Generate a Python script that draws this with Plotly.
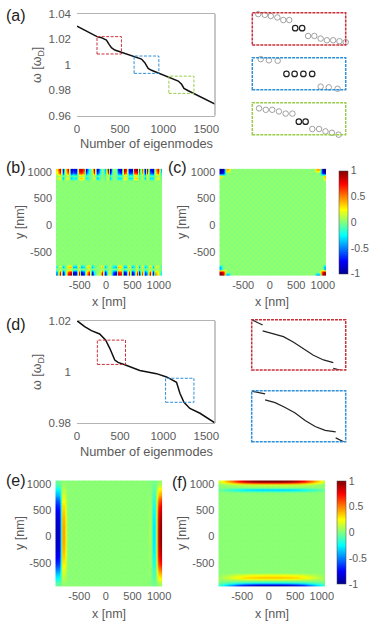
# Eigenmode spectra and field maps, panels (a) to (f)
import numpy as np
import plotly.graph_objects as go

W, H = 374, 628

# --- spectra ---
a_modes = [0, 232, 283, 341, 372, 399, 438, 515, 662, 748, 786, 825, 864, 949, 1065, 1174, 1213, 1240, 1290, 1356, 1600]
a_freq = [1.0303, 1.0220, 1.0212, 1.0193, 1.0160, 1.0133, 1.0115, 1.0097, 1.0063, 1.0044, 1.0016, 0.9971, 0.9956,
          0.9932, 0.9901, 0.9872, 0.9846, 0.9814, 0.9796, 0.9775, 0.9692]
d_modes = [0, 89, 167, 263, 333, 380, 438, 476, 562, 728, 922, 1038, 1154, 1193, 1240, 1309, 1426, 1522, 1600]
d_freq = [1.02, 1.0177, 1.0161, 1.0148, 1.0124, 1.0092, 1.0046, 1.0037, 1.0027, 1.0005, 0.9993, 0.9980, 0.9959,
          0.9916, 0.9881, 0.9857, 0.9838, 0.9818, 0.98]

# zoom windows: x0, x1, y0, y1
a_red_box = [232, 515, 1.0084, 1.022]
a_blue_box = [662, 949, 0.9932, 1.0068]
a_green_box = [1065, 1356, 0.9775, 0.991]
d_red_box = [236, 562, 1.0029, 1.0124]
d_blue_box = [1027, 1356, 0.9881, 0.9975]

# inset modes for (a), grey = outside the gap, black = in the gap
red_x = [230, 250, 270, 288, 308, 326, 344, 362, 383, 401, 420, 439, 458, 477, 496, 515]
red_y = [1.0220, 1.0214, 1.0211, 1.0206, 1.0200, 1.0189, 1.0189, 1.0155, 1.0155, 1.0122, 1.0122, 1.0111, 1.0104,
         1.0104, 1.0100, 1.0096]
red_gap = [7, 8]
blue_x = [662, 688, 713, 740, 767, 792, 819, 846, 872, 897, 924, 951]
blue_y = [1.0069, 1.0062, 1.0057, 1.0055, 0.9999, 0.9999, 0.9999, 0.9999, 0.9945, 0.9942, 0.9936, 0.9931]
blue_gap = [4, 5, 6, 7]
green_x = [1063, 1086, 1107, 1127, 1148, 1169, 1190, 1210, 1231, 1252, 1273, 1293, 1313, 1334, 1356]
green_y = [0.9889, 0.9886, 0.9880, 0.9880, 0.9873, 0.9864, 0.9864, 0.9830, 0.9830, 0.9799, 0.9799, 0.9789, 0.9783,
           0.9775, 0.9774]
green_gap = [7, 8]

# inset curves for (d), None marks the gaps
d_red_x = [236, 274, None, 274, 311, 346, 380, 415, 450, 485, 519, None, 519, 562]
d_red_y = [1.0124, 1.0114, None, 1.0103, 1.0098, 1.0092, 1.0082, 1.0070, 1.0057, 1.0048, 1.0043, None, 1.0032, 1.0026]
d_blue_x = [1027, 1074, None, 1074, 1109, 1144, 1179, 1214, 1249, 1284, 1321, None, 1321, 1356]
d_blue_y = [0.9974, 0.9969, None, 0.9958, 0.9953, 0.9944, 0.9934, 0.9920, 0.9909, 0.9902, 0.9899, None, 0.9888, 0.9879]

# --- field maps, 40 x 40 sites, row 0 is the top of the panel ---
site_nm = np.linspace(-925, 1035, 40)
bg_a = [-0.01, 0.05] * 20
bg_b = [0.05, 0.0] * 20

b_top = [0.3, 0.9, -0.9, 0.2, 0.8, -1, -0.7, -0.9, 0.8, 0.9, 0.6, -0.8, -0.2, 0.1, 0.9, -1, -0.3, 0.1, -0.4, 0.9,
         -1, 0.1, 0.0, -0.7, -0.9, 0.9, 0.7, -0.9, -0.8, 0.8, 1, -0.6, 0.6, -1, 0.9, -0.7, -0.9, 0.3, 0.8, -0.4]
b_top2 = [0.1, 0.3, -0.4, 0.1, 0.3, -0.4, -0.2, -0.3, 0.3, 0.4, 0.2, -0.3, -0.1, 0.05, 0.3, -0.4, -0.1, 0.05, -0.1,
          0.3, -0.4, 0.05, 0.0, -0.3, -0.3, 0.3, 0.3, -0.3, -0.3, 0.3, 0.4, -0.2, 0.2, -0.4, 0.3, -0.3, -0.3, 0.1,
          0.3, -0.1]
b_bottom = [-0.5, 0.9, -1, -0.2, 0.8, 1, -0.9, -1, 0.9, -1, -0.7, 0.3, 0.9, -1, -0.3, 0.1, 0.1, 0.9, -1, 0.1, 0.2,
            -0.7, -1, 0.9, 0.8, -1, -0.8, 0.9, -1, -0.6, 0.8, -1, 0.7, -0.8, -0.4, 0.9, -1, 0.5, 0.3, -0.3]
b_bottom2 = [-0.2, 0.3, -0.4, -0.1, 0.35, 0.4, -0.4, -0.4, 0.4, -0.4, -0.3, 0.1, 0.4, -0.4, -0.1, 0.05, 0.05, 0.4,
             -0.4, 0.05, 0.1, -0.3, -0.4, 0.4, 0.35, -0.4, -0.35, 0.4, -0.4, -0.25, 0.35, -0.4, 0.3, -0.35, -0.2,
             0.4, -0.4, 0.2, 0.15, -0.1]

e_edge = [0.05, 0.1, 0.2, 0.3, 0.38, 0.45, 0.55, 0.65, 0.72, 0.78, 0.83, 0.87, 0.9, 0.93, 0.95, 0.97, 0.98, 0.99, 1,
          1, 1, 1, 0.99, 0.98, 0.97, 0.95, 0.93, 0.9, 0.87, 0.83, 0.78, 0.72, 0.65, 0.55, 0.45, 0.38, 0.3, 0.2, 0.1,
          0.05]
e_ridge = [0.03, 0.05, 0.08, 0.12, 0.15, 0.18, 0.2, 0.24, 0.27, 0.3, 0.32, 0.34, 0.36, 0.38, 0.39, 0.4, 0.41, 0.42,
           0.42, 0.42, 0.42, 0.42, 0.42, 0.41, 0.4, 0.39, 0.38, 0.36, 0.34, 0.32, 0.3, 0.27, 0.24, 0.2, 0.18, 0.15,
           0.12, 0.08, 0.05, 0.03]
f_edge = [0.15, 0.25, 0.33, 0.4, 0.48, 0.55, 0.62, 0.7, 0.76, 0.82, 0.87, 0.9, 0.93, 0.95, 0.97, 0.98, 1, 1, 1, 1, 1,
          1, 1, 1, 0.98, 0.97, 0.95, 0.93, 0.9, 0.87, 0.82, 0.76, 0.7, 0.62, 0.55, 0.48, 0.4, 0.33, 0.25, 0.15]


def background():
    return np.array([bg_a if i % 2 == 0 else bg_b for i in range(40)])


z_b = background()
z_b[0] = b_top
z_b[1] = 0.75 * np.array(b_top)
z_b[2] = 0.1 * np.array(b_top)
z_b[3] = b_top2
z_b[36] = b_bottom2
z_b[38] = 0.75 * np.array(b_bottom)
z_b[39] = b_bottom

z_c = background()
z_c[0, [0, 1, 2, 3, 36, 37, 38, 39]] = [-1, -0.9, 0.4, 0.4, 0.4, 0.4, -0.9, -1]
z_c[1, [0, 1, 38, 39]] = [-0.9, -0.7, -0.7, -0.9]
z_c[2, [0, 39]] = [0.3, 0.35]
z_c[3, [0, 39]] = [0.1, 0.35]
z_c[36, [0, 39]] = [-0.4, -0.4]
z_c[37, [0, 39]] = [-0.4, -0.4]
z_c[38, [0, 1, 38, 39]] = [0.9, 0.7, 0.7, 0.9]
z_c[39, [0, 1, 2, 3, 36, 37, 38, 39]] = [1, 0.9, -0.45, -0.45, -0.45, -0.45, 0.9, 1]

z_e = background()
z_e[:, 0] = -0.9 * np.array(e_edge)
z_e[:, 1] = -0.85 * np.array(e_edge)
z_e[:, 2] = np.array(e_ridge)
z_e[:, 3] = np.array(e_ridge)
z_e[:, 35] = 0.25 * np.array(e_ridge)
z_e[:, 36] = -0.75 * np.array(e_ridge)
z_e[:, 37] = -0.5 * np.array(e_ridge)
z_e[:, 38] = 0.85 * np.array(e_edge)
z_e[:, 39] = np.array(e_edge)

z_f = background()
z_f[0] = f_edge
z_f[1] = 0.15 * np.array(f_edge)
z_f[3] = -0.35 * np.array(f_edge)
z_f[35] = 0.2 * np.array(f_edge)
z_f[36] = 0.38 * np.array(f_edge)
z_f[38] = -0.2 * np.array(f_edge)
z_f[39] = -1.0 * np.array(f_edge)

GREY = "#5a5a5a"
LINE = "#b4b4b4"
RED = "#c8303a"
BLUE = "#2f8fd8"
GREEN = "#9acd4a"
JET = [[0, "#00008f"], [0.125, "#0000ff"], [0.375, "#00ffff"], [0.625, "#ffff00"], [0.875, "#ff0000"], [1, "#800000"]]


# pixel box -> axis domains
def dom(x0, x1, y0, y1):
    return dict(domain=[x0 / W, x1 / W]), dict(domain=[1 - y1 / H, 1 - y0 / H])


def ref(n):
    return "" if n == 1 else str(n)


fig = go.Figure()
layout = {}
shapes = []
annots = []


def note(text, x, y, size=11, color=GREY, angle=0, anchor="center"):
    annots.append(dict(text=text, x=x / W, y=1 - y / H, xref="paper", yref="paper", showarrow=False,
                       font=dict(size=size, color=color), textangle=angle, xanchor=anchor, yanchor="middle"))


def spectrum_axes(n, box, yrange, yticks, ylabels):
    xd, yd = dom(*box)
    layout[f"xaxis{ref(n)}"] = dict(xd, anchor=f"y{ref(n)}", range=[0, 1600], tickvals=[0, 500, 1000, 1500],
                                    showgrid=False, zeroline=False, showline=True, mirror=True, linecolor=LINE,
                                    linewidth=1, ticks="", ticklabelstandoff=2, tickfont=dict(size=11.5, color=GREY))
    layout[f"yaxis{ref(n)}"] = dict(yd, anchor=f"x{ref(n)}", range=yrange, tickvals=yticks, ticktext=ylabels,
                                    showgrid=False, zeroline=False, showline=False, ticks="",
                                    ticklabelstandoff=5, tickfont=dict(size=11.5, color=GREY))
    shapes.append(dict(type="line", xref=f"x{ref(n)} domain", yref=f"y{ref(n)} domain", x0=1, x1=1, y0=0, y1=1,
                       line=dict(color=LINE, width=1.5)))


def inset_axes(n, box, zoom, color):
    xd, yd = dom(*box)
    layout[f"xaxis{n}"] = dict(xd, anchor=f"y{n}", range=zoom[:2], visible=False)
    layout[f"yaxis{n}"] = dict(yd, anchor=f"x{n}", range=zoom[2:], visible=False)
    shapes.append(dict(type="rect", xref=f"x{n} domain", yref=f"y{n} domain", x0=0, x1=1, y0=0, y1=1,
                       line=dict(color=color, width=1.5, dash="3px,1px")))


def map_axes(n, box, yrange):
    xd, yd = dom(*box)
    layout[f"xaxis{n}"] = dict(xd, anchor=f"y{n}", range=[-950, 1060], tickvals=[-500, 0, 500, 1000],
                               ticktext=["-500", "0", "500", "1000"], showgrid=False, zeroline=False, ticks="",
                               ticklabelstandoff=1, tickfont=dict(size=11, color=GREY))
    layout[f"yaxis{n}"] = dict(yd, anchor=f"x{n}", range=yrange, tickvals=[-500, 0, 500, 1000],
                               ticktext=["-500", "0", "500", "1000"], showgrid=False, zeroline=False, ticks="",
                               ticklabelstandoff=3, tickfont=dict(size=11, color=GREY))


def add_map(n, z, bar=None):
    tr = go.Heatmap(x=site_nm, y=site_nm[::-1] * 1.0, z=z, colorscale=JET, zmin=-1, zmax=1, zsmooth="best",
                    xaxis=f"x{n}", yaxis=f"y{n}", showscale=bar is not None)
    if bar is not None:
        tr.colorbar = dict(x=bar[0] / W, xanchor="left", y=1 - bar[1] / H, yanchor="top", len=(bar[2] - bar[1]) / H,
                           thickness=9.4, outlinewidth=0.5, outlinecolor="#444", ticks="", xpad=0, ypad=0,
                           tickvals=[-1, -0.5, 0, 0.5, 1], ticktext=["-1", "-0.5", "0", "0.5", "1"],
                           tickfont=dict(size=10.5, color=GREY))
    fig.add_trace(tr)


def add_modes(n, xs, ys, gap):
    grey_x = [v for i, v in enumerate(xs) if i not in gap]
    grey_y = [v for i, v in enumerate(ys) if i not in gap]
    fig.add_trace(go.Scatter(x=grey_x, y=grey_y, mode="markers", cliponaxis=False, xaxis=f"x{n}", yaxis=f"y{n}",
                             marker=dict(symbol="circle-open", size=5.5, color="#8a8a8a", line=dict(width=0.8))))
    fig.add_trace(go.Scatter(x=[xs[i] for i in gap], y=[ys[i] for i in gap], mode="markers", cliponaxis=False,
                             xaxis=f"x{n}", yaxis=f"y{n}",
                             marker=dict(symbol="circle-open", size=5.5, color="#222", line=dict(width=1.2))))


# panel (a)
spectrum_axes(1, (77, 215, 13.7, 115.7), [0.96, 1.04], [0.96, 0.98, 1, 1.02, 1.04],
              ["0.96", "0.98", "1", "1.02", "1.04"])
fig.add_trace(go.Scatter(x=a_modes, y=a_freq, mode="lines", line=dict(color="#111", width=1.5), xaxis="x", yaxis="y",
                         cliponaxis=False))
for b, c in [(a_red_box, RED), (a_blue_box, BLUE), (a_green_box, GREEN)]:
    shapes.append(dict(type="rect", xref="x", yref="y", x0=b[0], x1=b[1], y0=b[2], y1=b[3],
                       line=dict(color=c, width=1, dash="3px,1.5px")))

inset_axes(2, (252.3, 345.7, 12.7, 45), a_red_box, RED)
add_modes(2, red_x, red_y, red_gap)
inset_axes(3, (252.3, 345.7, 57.7, 89.7), a_blue_box, BLUE)
add_modes(3, blue_x, blue_y, blue_gap)
inset_axes(4, (252.3, 345.7, 102.7, 134.7), a_green_box, GREEN)
add_modes(4, green_x, green_y, green_gap)

# panels (b) (c)
map_axes(5, (56, 162, 168.3, 275.7), [-950, 1070])
add_map(5, z_b)
map_axes(6, (219.3, 326, 168.3, 275.7), [-950, 1070])
add_map(6, z_c, bar=(339.3, 170.7, 274))

# panel (d)
spectrum_axes(7, (77, 215, 320.7, 423), [0.98, 1.02], [0.98, 1, 1.02], ["0.98", "1", "1.02"])
fig.add_trace(go.Scatter(x=d_modes, y=d_freq, mode="lines", line=dict(color="#111", width=1.5), xaxis="x7", yaxis="y7",
                         cliponaxis=False))
for b, c in [(d_red_box, RED), (d_blue_box, BLUE)]:
    shapes.append(dict(type="rect", xref="x7", yref="y7", x0=b[0], x1=b[1], y0=b[2], y1=b[3],
                       line=dict(color=c, width=1, dash="3px,1.5px")))

inset_axes(8, (251.7, 345.7, 319.7, 370), d_red_box, RED)
fig.add_trace(go.Scatter(x=d_red_x, y=d_red_y, mode="lines", line=dict(color="#222", width=1.2), cliponaxis=False,
                         xaxis="x8", yaxis="y8"))
inset_axes(9, (251.7, 345.7, 390.7, 441.7), d_blue_box, BLUE)
fig.add_trace(go.Scatter(x=d_blue_x, y=d_blue_y, mode="lines", line=dict(color="#222", width=1.2), cliponaxis=False,
                         xaxis="x9", yaxis="y9"))

# panels (e) (f)
map_axes(10, (55.3, 162.3, 480, 586.7), [-950, 1070])
add_map(10, z_e)
map_axes(11, (218.3, 325, 480, 586.7), [-950, 1070])
add_map(11, z_f, bar=(337.3, 481, 584.3))

# panel letters and axis titles
for text, x, y in [("(a)", 4, 15), ("(b)", 4, 167), ("(c)", 166, 167), ("(d)", 4, 324), ("(e)", 4, 480), ("(f)", 170, 482)]:
    note(text, x, y, size=16, color="#222", anchor="left")
for y in (144, 452):
    note("Number of eigenmodes", 146, y, size=12.8)
note("ω [ω<sub>D</sub>]", 38, 65, size=12.5, angle=-90)
note("ω [ω<sub>D</sub>]", 38, 372, size=12.5, angle=-90)
for x, y in [(20, 222), (182, 222), (20, 533), (182, 533)]:
    note("y [nm]", x, y, size=12.5, angle=-90)
for x, y in [(109, 302), (272, 302), (109, 614), (272, 614)]:
    note("x [nm]", x, y, size=12.5)

fig.update_layout(width=W, height=H, margin=dict(l=0, r=0, t=0, b=0, autoexpand=False), showlegend=False,
                  paper_bgcolor="white", plot_bgcolor="white",
                  font=dict(family="Liberation Sans, Arial, sans-serif", color=GREY),
                  shapes=shapes, annotations=annots, **layout)

fig.write_html("out.html", config=dict(displayModeBar=False), post_script="document.body.style.margin='0';")
